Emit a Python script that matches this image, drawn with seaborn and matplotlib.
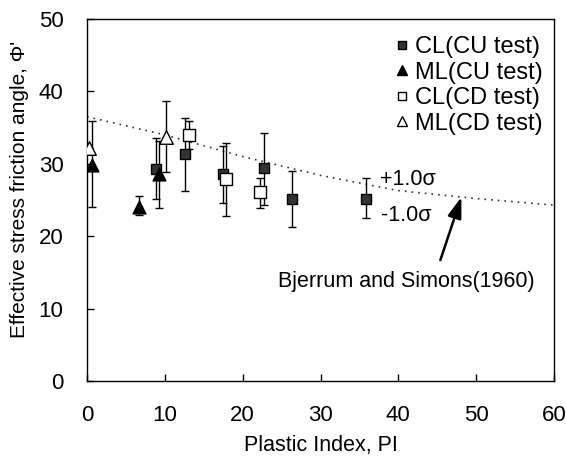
import numpy as np
import pandas as pd
import seaborn as sns
import matplotlib
matplotlib.use("Agg")
import matplotlib.pyplot as plt
from matplotlib.lines import Line2D

# ---- data ----
cl_cu_pi = [8.9, 12.6, 17.5, 22.8, 26.3, 35.9]
cl_cu_phi = [29.3, 31.3, 28.6, 29.4, 25.1, 25.1]
cl_cu_hi = [33.6, 36.3, 32.4, 34.3, 29.0, 28.0]
cl_cu_lo = [25.2, 26.3, 24.6, 24.3, 21.3, 22.5]

ml_cu_pi = [0.7, 6.7, 9.2]
ml_cu_phi = [29.8, 24.1, 28.6]
ml_cu_hi = [35.9, 25.6, 33.1]
ml_cu_lo = [24.1, 22.9, 23.9]

cl_cd_pi = [13.1, 17.8, 22.2]
cl_cd_phi = [34.0, 27.9, 26.1]
cl_cd_hi = [35.9, 32.9, 28.1]
cl_cd_lo = [32.0, 22.8, 23.9]

ml_cd_pi = [0.2, 10.2]
ml_cd_phi = [32.2, 33.7]
ml_cd_hi = [32.2, 38.7]
ml_cd_lo = [32.2, 28.9]

bjerrum_pi = [0, 10, 20, 30, 40, 50, 60]
bjerrum_phi = [36.5, 34.0, 31.0, 28.4, 26.3, 25.2, 24.3]

labels = ["CL(CU test)", "ML(CU test)", "CL(CD test)", "ML(CD test)"]

sns.set_style("ticks")
plt.rcParams['font.family'] = ['Liberation Sans', 'DejaVu Sans']
plt.rcParams['text.color'] = 'black'
plt.rcParams['axes.labelcolor'] = 'black'
FS = 15.5

fig = plt.figure(figsize=(5.66, 4.59), dpi=100)
ax = fig.add_axes([87/566, 78/459, (554-87)/566, (381-19)/459])

# Bjerrum and Simons curve
sns.lineplot(x=bjerrum_pi, y=bjerrum_phi, ax=ax, color="#333333",
             linestyle=(0, (1, 3)), linewidth=1.2, zorder=1)

groups = [
    (cl_cu_pi, cl_cu_phi, cl_cu_hi, cl_cu_lo, "s", "#333333", 60),
    (ml_cu_pi, ml_cu_phi, ml_cu_hi, ml_cu_lo, "^", "black", 85),
    (cl_cd_pi, cl_cd_phi, cl_cd_hi, cl_cd_lo, "s", "white", 75),
    (ml_cd_pi, ml_cd_phi, ml_cd_hi, ml_cd_lo, "^", "white", 95),
]

for (px, py, hi, lo, m, fc, s) in groups:
    px = np.array(px); py = np.array(py)
    yerr = [py - np.array(lo), np.array(hi) - py]
    ax.errorbar(px, py, yerr=yerr, fmt="none", ecolor="black",
                elinewidth=1.0, capsize=3, capthick=1.0, zorder=2)
    sns.scatterplot(x=px, y=py, ax=ax, marker=m, color=fc, edgecolor="black",
                    linewidth=1.0, s=s, zorder=3, legend=False)

ax.set_xlim(0, 60)
ax.set_ylim(0, 50)
ax.set_xticks(range(0, 61, 10))
ax.set_yticks(range(0, 51, 10))
ax.tick_params(direction="in", length=5, width=1, labelsize=16, pad=17,
               colors="black", labelcolor="black", top=False, right=False)
for sp in ax.spines.values():
    sp.set_visible(True)
    sp.set_color("black")
    sp.set_linewidth(1.0)

ax.set_xlabel("Plastic Index, PI", fontsize=FS, labelpad=7)
ax.set_ylabel("Effective stress friction angle, \u03a6'", fontsize=15)
ax.yaxis.set_label_coords(-58/467, 0.53)

# annotations
ax.text(37.6, 27.8, "+1.0\u03c3", fontsize=FS, ha="left", va="center")
ax.text(37.8, 22.9, "-1.0\u03c3", fontsize=FS, ha="left", va="center")
ax.text(41.0, 13.7, "Bjerrum and Simons(1960)", fontsize=FS, ha="center", va="center")
ax.annotate("", xy=(48.1, 25.4), xytext=(45.4, 16.7),
            arrowprops=dict(arrowstyle="-|>,head_length=0.9,head_width=0.3",
                            color="black", lw=1.8,
                            mutation_scale=14, shrinkA=0, shrinkB=0))

handles = [
    Line2D([], [], marker="s", color="none", markerfacecolor="#333333",
           markeredgecolor="black", markersize=6),
    Line2D([], [], marker="^", color="none", markerfacecolor="black",
           markeredgecolor="black", markersize=7),
    Line2D([], [], marker="s", color="none", markerfacecolor="white",
           markeredgecolor="black", markersize=6),
    Line2D([], [], marker="^", color="none", markerfacecolor="white",
           markeredgecolor="black", markersize=7),
]
ax.legend(handles, labels, loc="upper left", bbox_to_anchor=(0.657, 0.953),
          frameon=False, fontsize=17, handlelength=0.7, handletextpad=0.2,
          labelspacing=0.15, borderpad=0, borderaxespad=0)

fig.savefig("out.png", dpi=100)
